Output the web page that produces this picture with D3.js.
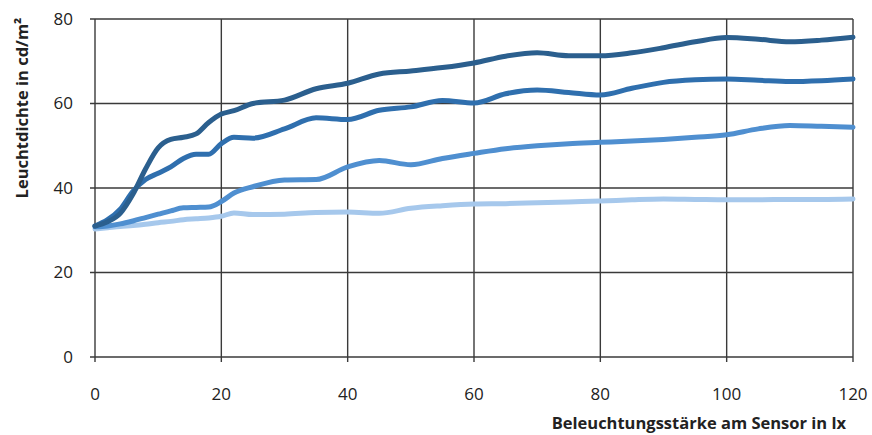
<!DOCTYPE html>
<html>
<head>
<meta charset="utf-8">
<script src="https://cdn.jsdelivr.net/npm/d3@7"></script>
<style>
  body { margin: 0; background: #fff; }
  text { font-family: "Open Sans", "Liberation Sans", sans-serif; fill: #222; }
</style>
</head>
<body>
<div id="chart"></div>
<script>
// chart values
const illuminance = [0, 2, 4, 6, 8, 10, 12, 14, 16, 18, 20, 22, 25, 30, 35, 40, 45, 50, 55, 60, 65, 70, 75, 80, 85, 90, 95, 100, 105, 110, 115, 120];
const series1 = [31, 32, 34, 38.5, 44.5, 49.5, 51.5, 52, 52.8, 55.5, 57.5, 58.3, 60, 60.8, 63.5, 64.8, 67, 67.7, 68.5, 69.6, 71.2, 72, 71.3, 71.3, 72, 73.2, 74.6, 75.6, 75.2, 74.6, 75, 75.7];
const series2 = [31, 32.5, 35, 39.2, 42, 43.5, 45, 47, 48, 48, 50.5, 52, 51.8, 54, 56.6, 56.2, 58.4, 59.2, 60.7, 60.1, 62.3, 63.2, 62.6, 62, 63.6, 65, 65.6, 65.8, 65.5, 65.2, 65.4, 65.8];
const series3 = [30.8, 31, 31.5, 32.2, 33, 33.8, 34.6, 35.3, 35.4, 35.5, 36.8, 38.8, 40.3, 41.9, 42, 45, 46.5, 45.5, 47, 48.2, 49.3, 50, 50.5, 50.8, 51.1, 51.5, 52, 52.6, 54, 54.8, 54.6, 54.4];
const series4 = [30.3, 30.6, 30.9, 31.1, 31.4, 31.8, 32.1, 32.5, 32.7, 32.9, 33.3, 34.1, 33.7, 33.8, 34.2, 34.3, 34, 35.2, 35.8, 36.2, 36.3, 36.5, 36.7, 36.9, 37.2, 37.4, 37.3, 37.2, 37.2, 37.3, 37.3, 37.4];
const xTicks = [0, 20, 40, 60, 80, 100, 120];
const yTicks = [0, 20, 40, 60, 80];
const lineColors = ["#2b5f8e", "#2f6fae", "#4f8fd0", "#a6c8ec"];

const width = 872, height = 435;
const margin = { top: 19, right: 19, bottom: 78, left: 95 };
const w = width - margin.left - margin.right;
const h = height - margin.top - margin.bottom;

const svg = d3.select("#chart").append("svg")
  .attr("width", width)
  .attr("height", height);

const g = svg.append("g")
  .attr("transform", `translate(${margin.left},${margin.top})`);

const x = d3.scaleLinear().domain([0, 120]).range([0, w]);
const y = d3.scaleLinear().domain([0, 80]).range([h, 0]);

// grid
g.selectAll(".vgrid")
  .data(xTicks)
  .join("line")
  .attr("x1", d => x(d)).attr("x2", d => x(d))
  .attr("y1", 0).attr("y2", h + 5)
  .attr("stroke", "#3a3a3a")
  .attr("stroke-width", 1.4);

g.selectAll(".hgrid")
  .data(yTicks)
  .join("line")
  .attr("x1", -5).attr("x2", w)
  .attr("y1", d => y(d)).attr("y2", d => y(d))
  .attr("stroke", "#3a3a3a")
  .attr("stroke-width", 1.4);

// tick labels
g.selectAll(".ylab")
  .data(yTicks)
  .join("text")
  .attr("x", -22)
  .attr("y", d => y(d))
  .attr("dy", "0.35em")
  .attr("text-anchor", "end")
  .style("font-size", "17px")
  .text(d => d);

g.selectAll(".xlab")
  .data(xTicks)
  .join("text")
  .attr("x", d => x(d))
  .attr("y", h + 43)
  .attr("text-anchor", "middle")
  .style("font-size", "17px")
  .text(d => d);

// lines
const allSeries = [series4, series3, series2, series1];
const colorsDrawn = [lineColors[3], lineColors[2], lineColors[1], lineColors[0]];

const line = d3.line()
  .x((d, i) => x(illuminance[i]))
  .y(d => y(d))
  .curve(d3.curveMonotoneX);

g.selectAll(".series")
  .data(allSeries)
  .join("path")
  .attr("d", line)
  .attr("fill", "none")
  .attr("stroke", (d, i) => colorsDrawn[i])
  .attr("stroke-width", 5)
  .attr("stroke-linecap", "round")
  .attr("stroke-linejoin", "round");

// axis titles
svg.append("text")
  .attr("transform", `translate(28, 108) rotate(-90)`)
  .attr("text-anchor", "middle")
  .style("font-size", "16.5px")
  .style("font-weight", "bold")
  .text("Leuchtdichte in cd/m²");

svg.append("text")
  .attr("x", 846)
  .attr("y", 429)
  .attr("text-anchor", "end")
  .style("font-size", "16.5px")
  .style("font-weight", "bold")
  .text("Beleuchtungsstärke am Sensor in lx");
</script>
</body>
</html>
